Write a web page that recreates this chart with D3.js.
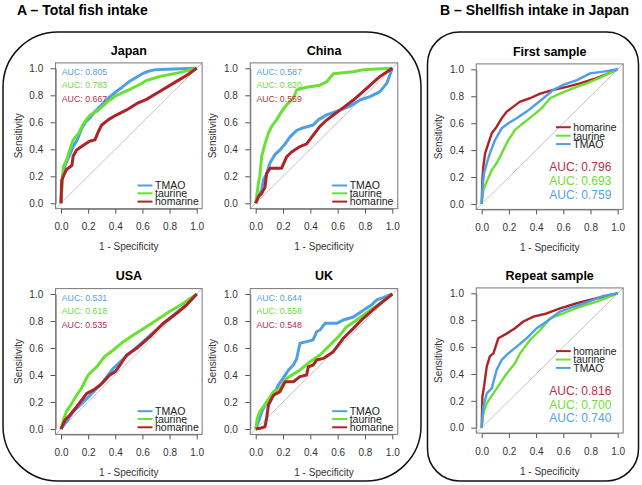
<!DOCTYPE html>
<html><head><meta charset="utf-8">
<script src="https://cdn.jsdelivr.net/npm/d3@7"></script>
<style>body{margin:0;background:#fff}svg{display:block}</style>
</head><body><svg id="c" width="642" height="485"></svg>
<script>
// ---------- DATA ----------
const groupTitles = ["A \u2013 Total fish intake", "B \u2013 Shellfish intake in Japan"];
const panelTitles = ["Japan", "China", "USA", "UK", "First sample", "Repeat sample"];
const seriesNames = ["TMAO", "taurine", "homarine"];
const tickValues = [0, 0.2, 0.4, 0.6, 0.8, 1.0];
const tickLabels = ["0.0", "0.2", "0.4", "0.6", "0.8", "1.0"];
const xAxisLabel = "1 - Specificity";
const yAxisLabel = "Sensitivity";

// AUC values per panel: [TMAO, taurine, homarine]
const aucJapan = ["0.805", "0.783", "0.667"];
const aucChina = ["0.587", "0.820", "0.559"];
const aucUSA = ["0.531", "0.618", "0.535"];
const aucUK = ["0.644", "0.558", "0.548"];
const aucFirst = ["0.759", "0.693", "0.796"];
const aucRepeat = ["0.740", "0.700", "0.816"];

// ROC points [1-specificity, sensitivity]
const japanTMAO = [[0,0],[0.005,0.12],[0.015,0.22],[0.03,0.28],[0.06,0.35],[0.09,0.42],[0.12,0.47],[0.15,0.55],[0.18,0.6],[0.21,0.63],[0.25,0.68],[0.3,0.73],[0.35,0.78],[0.41,0.83],[0.45,0.86],[0.5,0.9],[0.55,0.93],[0.6,0.96],[0.65,0.98],[0.7,0.99],[0.83,0.995],[1,1]];
const japanTaurine = [[0,0],[0.007,0.12],[0.017,0.27],[0.04,0.32],[0.066,0.4],[0.09,0.47],[0.13,0.52],[0.165,0.59],[0.21,0.65],[0.275,0.69],[0.34,0.75],[0.41,0.8],[0.5,0.84],[0.58,0.88],[0.63,0.91],[0.73,0.94],[0.88,0.97],[1,1]];
const japanHomarine = [[0,0],[0.005,0.17],[0.017,0.2],[0.04,0.25],[0.08,0.28],[0.09,0.35],[0.115,0.395],[0.165,0.43],[0.21,0.46],[0.25,0.47],[0.275,0.53],[0.3,0.58],[0.35,0.62],[0.4,0.65],[0.48,0.69],[0.56,0.74],[0.63,0.77],[0.73,0.83],[0.83,0.89],[0.93,0.95],[1,1]];

const chinaTMAO = [[0,0],[0.02,0.05],[0.044,0.1],[0.056,0.17],[0.08,0.22],[0.105,0.3],[0.14,0.36],[0.178,0.395],[0.215,0.44],[0.25,0.49],[0.3,0.54],[0.35,0.56],[0.42,0.58],[0.46,0.62],[0.52,0.655],[0.617,0.69],[0.69,0.72],[0.763,0.765],[0.837,0.79],[0.91,0.827],[0.96,0.89],[1,1]];
const chinaTaurine = [[0,0],[0.007,0.05],[0.02,0.15],[0.03,0.2],[0.044,0.35],[0.068,0.44],[0.093,0.52],[0.117,0.57],[0.154,0.62],[0.19,0.68],[0.227,0.73],[0.276,0.78],[0.3,0.84],[0.373,0.86],[0.47,0.875],[0.52,0.9],[0.568,0.96],[0.715,0.975],[0.79,0.99],[0.885,0.995],[1,1]];
const chinaHomarine = [[0,0],[0.02,0.05],[0.044,0.074],[0.068,0.12],[0.08,0.22],[0.105,0.26],[0.19,0.26],[0.227,0.345],[0.263,0.38],[0.324,0.42],[0.373,0.44],[0.41,0.49],[0.47,0.57],[0.52,0.617],[0.617,0.69],[0.715,0.765],[0.81,0.85],[0.91,0.94],[1,1]];

const usaTMAO = [[0,0],[0.04,0.054],[0.09,0.128],[0.165,0.2],[0.24,0.277],[0.31,0.35],[0.386,0.45],[0.46,0.52],[0.533,0.585],[0.63,0.67],[0.73,0.758],[0.83,0.845],[0.926,0.92],[1,1]];
const usaTaurine = [[0,0],[0.017,0.067],[0.04,0.13],[0.08,0.19],[0.115,0.25],[0.15,0.3],[0.2,0.4],[0.263,0.46],[0.32,0.535],[0.386,0.585],[0.46,0.647],[0.533,0.696],[0.63,0.758],[0.705,0.807],[0.8,0.87],[0.9,0.93],[1,1]];
const usaHomarine = [[0,0],[0.03,0.067],[0.066,0.104],[0.115,0.165],[0.19,0.264],[0.24,0.29],[0.29,0.326],[0.36,0.4],[0.4,0.425],[0.435,0.474],[0.484,0.548],[0.558,0.598],[0.656,0.684],[0.754,0.783],[0.853,0.857],[0.926,0.92],[1,1]];

const ukTMAO = [[0,0],[0.02,0.054],[0.044,0.128],[0.08,0.2],[0.13,0.25],[0.166,0.326],[0.2,0.375],[0.24,0.437],[0.276,0.474],[0.3,0.52],[0.324,0.635],[0.373,0.647],[0.42,0.66],[0.446,0.72],[0.47,0.733],[0.507,0.783],[0.593,0.783],[0.64,0.807],[0.715,0.83],[0.788,0.88],[0.85,0.92],[0.885,0.956],[0.934,0.973],[1,1]];
const ukTaurine = [[0,0],[0.012,0.079],[0.03,0.128],[0.08,0.2],[0.13,0.277],[0.178,0.3],[0.227,0.375],[0.324,0.437],[0.4,0.5],[0.47,0.548],[0.544,0.622],[0.617,0.696],[0.666,0.758],[0.74,0.807],[0.837,0.88],[0.91,0.93],[1,1]];
const ukHomarine = [[0,0],[0.03,0.005],[0.068,0.017],[0.08,0.079],[0.093,0.178],[0.13,0.25],[0.178,0.277],[0.215,0.35],[0.276,0.35],[0.324,0.388],[0.373,0.4],[0.385,0.46],[0.42,0.474],[0.446,0.511],[0.495,0.523],[0.568,0.573],[0.64,0.67],[0.715,0.745],[0.788,0.82],[0.885,0.906],[1,1]];

const firstTMAO = [[0,0],[0.007,0.13],[0.017,0.228],[0.037,0.302],[0.06,0.376],[0.098,0.475],[0.147,0.562],[0.196,0.6],[0.257,0.636],[0.33,0.686],[0.392,0.735],[0.453,0.785],[0.527,0.847],[0.6,0.884],[0.7,0.92],[0.797,0.97],[0.895,0.983],[1,1]];
const firstTaurine = [[0,0],[0.012,0.104],[0.037,0.166],[0.074,0.252],[0.11,0.302],[0.147,0.376],[0.196,0.475],[0.245,0.55],[0.306,0.6],[0.38,0.66],[0.44,0.71],[0.503,0.785],[0.576,0.82],[0.674,0.86],[0.772,0.896],[0.87,0.938],[1,1]];
const firstHomarine = [[0,0],[0.005,0.178],[0.012,0.277],[0.025,0.376],[0.049,0.45],[0.074,0.525],[0.11,0.574],[0.147,0.636],[0.184,0.686],[0.233,0.723],[0.282,0.76],[0.355,0.785],[0.43,0.82],[0.527,0.847],[0.625,0.87],[0.723,0.896],[0.82,0.926],[0.92,0.965],[1,1]];

const repeatTMAO = [[0,0],[0.012,0.156],[0.037,0.255],[0.074,0.293],[0.11,0.43],[0.147,0.504],[0.196,0.553],[0.257,0.603],[0.33,0.665],[0.404,0.74],[0.478,0.79],[0.576,0.864],[0.674,0.9],[0.772,0.933],[0.895,0.98],[1,1]];
const repeatTaurine = [[0,0],[0.012,0.107],[0.037,0.18],[0.086,0.255],[0.135,0.33],[0.184,0.404],[0.245,0.48],[0.282,0.553],[0.355,0.653],[0.43,0.727],[0.503,0.814],[0.6,0.85],[0.723,0.9],[0.846,0.938],[1,1]];
const repeatHomarine = [[0,0],[0.005,0.23],[0.017,0.305],[0.037,0.454],[0.06,0.53],[0.086,0.553],[0.122,0.665],[0.184,0.7],[0.245,0.74],[0.306,0.79],[0.38,0.826],[0.478,0.85],[0.576,0.888],[0.7,0.926],[0.846,0.963],[1,1]];

// ---------- STYLE / LAYOUT ----------
const colors = {TMAO: "#4d9fe6", taurine: "#6ae033", homarine: "#ad2328"};
const textColors = {TMAO: "#55a2e8", taurine: "#6edd3a", homarine: "#b5304a"};
const FONT = "'Liberation Sans', Arial, Helvetica, sans-serif";

const panels = [
  {title: panelTitles[0], auc: aucJapan, data: [japanTMAO, japanTaurine, japanHomarine], x0: 61, x1: 196.7, y0: 203.3, y1: 68.3, kind: "A"},
  {title: panelTitles[1], auc: aucChina, data: [chinaTMAO, chinaTaurine, chinaHomarine], x0: 255.7, x1: 392.3, y0: 203.3, y1: 68.3, kind: "A"},
  {title: panelTitles[2], auc: aucUSA, data: [usaTMAO, usaTaurine, usaHomarine], x0: 61, x1: 196.7, y0: 429, y1: 294, kind: "A"},
  {title: panelTitles[3], auc: aucUK, data: [ukTMAO, ukTaurine, ukHomarine], x0: 255.7, x1: 392.3, y0: 429, y1: 294, kind: "A"},
  {title: panelTitles[4], auc: aucFirst, data: [firstTMAO, firstTaurine, firstHomarine], x0: 481.7, x1: 617.7, y0: 204, y1: 69.3, kind: "B"},
  {title: panelTitles[5], auc: aucRepeat, data: [repeatTMAO, repeatTaurine, repeatHomarine], x0: 481.7, x1: 617.7, y0: 427.7, y1: 293.3, kind: "B"}
];

const svg = d3.select("#c");

// group frames
svg.append("rect").attr("x", 3).attr("y", 32).attr("width", 418).attr("height", 449)
  .attr("rx", 55).attr("ry", 55).attr("fill", "none").attr("stroke", "#111").attr("stroke-width", 1.5);
svg.append("rect").attr("x", 427.5).attr("y", 32).attr("width", 211).attr("height", 449)
  .attr("rx", 32).attr("ry", 32).attr("fill", "none").attr("stroke", "#111").attr("stroke-width", 1.5);

svg.append("text").attr("x", 17).attr("y", 15).text(groupTitles[0])
  .attr("font-family", FONT).attr("font-weight", "bold").attr("font-size", 14);
svg.append("text").attr("x", 440).attr("y", 15).text(groupTitles[1])
  .attr("font-family", FONT).attr("font-weight", "bold").attr("font-size", 14);

panels.forEach(p => {
  const x = d3.scaleLinear().domain([0, 1]).range([p.x0, p.x1]);
  const y = d3.scaleLinear().domain([0, 1]).range([p.y0, p.y1]);
  const g = svg.append("g");
  const bx0 = x(-0.04), bx1 = x(1.04), by0 = y(-0.04), by1 = y(1.04);

  // diagonal
  g.append("line").attr("x1", bx0).attr("y1", by0).attr("x2", bx1).attr("y2", by1)
    .attr("stroke", "#c4c4c4").attr("stroke-width", 1);

  // axes
  const xa = g.append("g").attr("transform", `translate(0,${by0})`)
    .call(d3.axisBottom(x).tickValues(tickValues).tickFormat((d, i) => tickLabels[i]).tickSize(5).tickSizeOuter(0).tickPadding(9.5));
  const ya = g.append("g").attr("transform", `translate(${bx0},0)`)
    .call(d3.axisLeft(y).tickValues(tickValues).tickFormat((d, i) => tickLabels[i]).tickSize(5).tickSizeOuter(0).tickPadding(7.3));
  [xa, ya].forEach(a => {
    a.attr("font-family", FONT).attr("font-size", 10).attr("color", "#333");
    a.select(".domain").attr("stroke", "#666");
    a.selectAll(".tick line").attr("stroke", "#555");
  });

  // box
  g.append("rect").attr("x", bx0).attr("y", by1).attr("width", bx1 - bx0).attr("height", by0 - by1)
    .attr("fill", "none").attr("stroke", "#777").attr("stroke-width", 1);

  // curves
  const line = d3.line().x(d => x(d[0])).y(d => y(d[1]));
  const order = p.kind === "A" ? [0, 1, 2] : [2, 1, 0];
  order.forEach(i => {
    g.append("path").datum(p.data[i]).attr("d", line).attr("fill", "none")
      .attr("stroke", colors[seriesNames[i]]).attr("stroke-width", p.kind === "A" ? 3 : 2.4)
      .attr("stroke-linejoin", "round");
  });

  // title
  g.append("text").attr("x", (bx0 + bx1) / 2).attr("y", by1 - 8.3).attr("text-anchor", "middle")
    .attr("font-family", FONT).attr("font-weight", "bold").attr("font-size", 12.5).text(p.title);
  // axis labels
  g.append("text").attr("x", (bx0 + bx1) / 2).attr("y", by0 + 41.6).attr("text-anchor", "middle")
    .attr("font-family", FONT).attr("font-size", 10).attr("fill", "#333").text(xAxisLabel);
  g.append("text").attr("transform", `translate(${bx0 - 37.5 + 3.6},${y(0.5)}) rotate(-90)`).attr("text-anchor", "middle")
    .attr("font-family", FONT).attr("font-size", 10).attr("fill", "#333").text(yAxisLabel);

  if (p.kind === "A") {
    [0, 1, 2].forEach((i, k) => {
      g.append("text").attr("x", x(0) + 0.7).attr("y", y(1) + [3.4, 16.7, 30.7][k] + 3.2)
        .attr("font-family", FONT).attr("font-size", 8.8).attr("fill", textColors[seriesNames[i]])
        .text("AUC: " + p.auc[i]);
      const ly = y(0) + [-17.8, -10, -1.7][k];
      g.append("line").attr("x1", x(0) + 76.5).attr("x2", x(0) + 91.5).attr("y1", ly).attr("y2", ly)
        .attr("stroke", colors[seriesNames[i]]).attr("stroke-width", 2);
      g.append("text").attr("x", x(0) + 94).attr("y", ly + 3.8)
        .attr("font-family", FONT).attr("font-size", 10.5).attr("fill", "#222").text(seriesNames[i]);
    });
  } else {
    [2, 1, 0].forEach((i, k) => {
      const ly = y([0.57, 0.507, 0.445][k]);
      g.append("line").attr("x1", x(0) + 74.3).attr("x2", x(0) + 89).attr("y1", ly).attr("y2", ly)
        .attr("stroke", colors[seriesNames[i]]).attr("stroke-width", 2);
      g.append("text").attr("x", x(0) + 91.6).attr("y", ly + 3.8)
        .attr("font-family", FONT).attr("font-size", 10.4).attr("fill", "#222").text(seriesNames[i]);
      g.append("text").attr("x", x(0) + 67.6).attr("y", y([0.275, 0.173, 0.072][k]) + 4.3)
        .attr("font-family", FONT).attr("font-size", 12).attr("fill", textColors[seriesNames[i]])
        .text("AUC: " + p.auc[i]);
    });
  }
});
</script>
</body></html>
